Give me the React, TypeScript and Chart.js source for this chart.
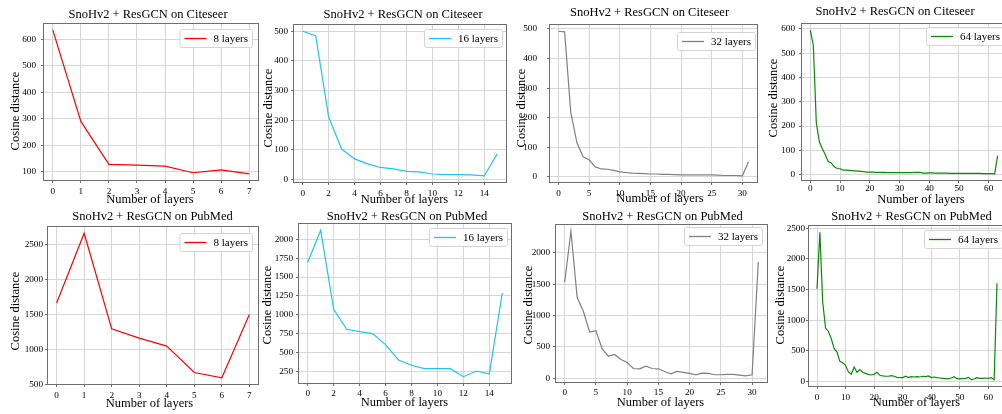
import React, { useEffect, useRef } from "react";
import { Chart, registerables } from "chart.js";

Chart.register(...registerables);

const TITLE_CITESEER = "SnoHv2 + ResGCN on Citeseer";
const TITLE_PUBMED = "SnoHv2 + ResGCN on PubMed";
const X_LABEL = "Number of layers";
const Y_LABEL = "Cosine distance";

const LEGEND_8 = "8 layers";
const LEGEND_16 = "16 layers";
const LEGEND_32 = "32 layers";
const LEGEND_64 = "64 layers";

// Citeseer series
const citeseer8 = [635, 290, 128, 125, 121, 96, 107, 92];
const citeseer16 = [500, 485, 211, 103, 70, 53, 41, 36, 28, 26, 19, 17, 17, 16, 13, 87];
const citeseer32 = [492, 490, 218, 116, 68, 58, 34, 27, 26, 22, 17, 15, 13, 12, 11, 10, 10, 9, 9, 8, 7, 7, 7, 7, 7, 7, 6, 5, 5, 5, 4, 51];
const citeseer64 = [
  595, 532, 214, 136, 107, 83, 54, 48, 33, 25,
  24, 18, 18, 17, 16, 15, 14, 13, 12, 10,
  10, 10, 9, 9, 9, 9, 8, 8, 8, 8,
  8, 8, 8, 8, 8, 9, 9, 9, 6, 6,
  7, 7, 6, 6, 6, 6, 6, 5, 5, 5,
  5, 5, 5, 5, 5, 5, 5, 5, 4, 4,
  4, 4, 3, 78,
];

// PubMed series
const pubmed8 = [1667, 2665, 1295, 1162, 1048, 671, 595, 1500];
const pubmed16 = [1695, 2119, 1072, 807, 776, 750, 604, 400, 330, 285, 285, 285, 179, 254, 215, 1288];
const pubmed32 = [
  1529, 2344, 1286, 1063, 735, 757, 466, 349, 376, 296,
  249, 153, 148, 190, 153, 148, 106, 69, 106, 90,
  74, 53, 79, 74, 53, 53, 58, 58, 48, 37,
  53, 1857,
];
const pubmed64 = [
  1511, 2435, 1293, 870, 815, 696, 533, 478, 326, 304,
  261, 152, 114, 234, 147, 190, 147, 130, 114, 103,
  114, 147, 98, 87, 82, 82, 92, 82, 65, 60,
  60, 82, 60, 76, 70, 76, 70, 82, 76, 87,
  60, 70, 60, 54, 49, 43, 38, 54, 76, 43,
  38, 43, 49, 65, 27, 38, 60, 49, 49, 54,
  49, 60, 27, 1603,
];

// Tick values
const xTicks8 = [0, 1, 2, 3, 4, 5, 6, 7];
const xTicks16 = [0, 2, 4, 6, 8, 10, 12, 14];
const xTicks32 = [0, 5, 10, 15, 20, 25, 30];
const xTicks64 = [0, 10, 20, 30, 40, 50, 60];
const yTicksCiteseer8 = [100, 200, 300, 400, 500, 600];
const yTicksCiteseer16 = [0, 100, 200, 300, 400, 500];
const yTicksCiteseer32 = [0, 100, 200, 300, 400, 500];
const yTicksCiteseer64 = [0, 100, 200, 300, 400, 500, 600];
const yTicksPubmed8 = [500, 1000, 1500, 2000, 2500];
const yTicksPubmed16 = [250, 500, 750, 1000, 1250, 1500, 1750, 2000];
const yTicksPubmed32 = [0, 500, 1000, 1500, 2000];
const yTicksPubmed64 = [0, 500, 1000, 1500, 2000, 2500];

const RED = "#ff0000";
const SKY = "#1ec4f2";
const GREY = "#808080";
const GREEN = "#0a8a0a";

const FONT = '"Liberation Serif", "DejaVu Serif", serif';

type Panel = {
  data: number[];
  xTicks: number[];
  yTicks: number[];
  title: string;
  legend: string;
  color: string;
  cl: number;
  ct: number;
  ch: number;
  plot: [number, number, number, number];
  titleX: number;
  titleY: number;
  yTitleX: number;
  yTitleY: number;
  xTitleX: number;
  xTitleY: number;
  xTickPad: number;
  yTickGap: number;
  legR: number;
  legT: number;
};

const PANELS: Panel[] = [
  { data: citeseer8, xTicks: xTicks8, yTicks: yTicksCiteseer8, title: TITLE_CITESEER, legend: LEGEND_8, color: RED,
    cl: 0, ct: 0, ch: 207, plot: [43, 23, 259, 181], titleX: 148, titleY: 15, yTitleX: 15.5, yTitleY: 111, xTitleX: 150, xTitleY: 200,
    xTickPad: 3, yTickGap: 7, legR: 7, legT: 6 },
  { data: citeseer16, xTicks: xTicks16, yTicks: yTicksCiteseer16, title: TITLE_CITESEER, legend: LEGEND_16, color: SKY,
    cl: 255, ct: 0, ch: 207, plot: [293, 24, 507, 183], titleX: 403, titleY: 15, yTitleX: 269, yTitleY: 108, xTitleX: 404.5, xTitleY: 200,
    xTickPad: 3, yTickGap: 5, legR: 5, legT: 5 },
  { data: citeseer32, xTicks: xTicks32, yTicks: yTicksCiteseer32, title: TITLE_CITESEER, legend: LEGEND_32, color: GREY,
    cl: 505, ct: 0, ch: 207, plot: [549, 24, 758, 183], titleX: 649.5, titleY: 13, yTitleX: 522, yTitleY: 108, xTitleX: 660, xTitleY: 199,
    xTickPad: 3, yTickGap: 12, legR: 3, legT: 8 },
  { data: citeseer64, xTicks: xTicks64, yTicks: yTicksCiteseer64, title: TITLE_CITESEER, legend: LEGEND_64, color: GREEN,
    cl: 757, ct: 0, ch: 207, plot: [801, 23, 1007, 181], titleX: 895, titleY: 12, yTitleX: 774, yTitleY: 98, xTitleX: 921, xTitleY: 200,
    xTickPad: 0, yTickGap: 6, legR: 3, legT: 4 },
  { data: pubmed8, xTicks: xTicks8, yTicks: yTicksPubmed8, title: TITLE_PUBMED, legend: LEGEND_8, color: RED,
    cl: 0, ct: 207, ch: 207, plot: [47, 226, 259, 385], titleX: 152.5, titleY: 217, yTitleX: 16, yTitleY: 311, xTitleX: 149.5, xTitleY: 404,
    xTickPad: 3, yTickGap: 4, legR: 7, legT: 7 },
  { data: pubmed16, xTicks: xTicks16, yTicks: yTicksPubmed16, title: TITLE_PUBMED, legend: LEGEND_16, color: SKY,
    cl: 255, ct: 207, ch: 207, plot: [298, 223, 512, 384], titleX: 407, titleY: 217, yTitleX: 268, yTitleY: 305, xTitleX: 404.5, xTitleY: 403,
    xTickPad: 2, yTickGap: 5, legR: 5, legT: 5 },
  { data: pubmed32, xTicks: xTicks32, yTicks: yTicksPubmed32, title: TITLE_PUBMED, legend: LEGEND_32, color: GREY,
    cl: 510, ct: 207, ch: 207, plot: [555, 224, 768, 383], titleX: 662.5, titleY: 217, yTitleX: 529, yTitleY: 305, xTitleX: 660.5, xTitleY: 403,
    xTickPad: 2, yTickGap: 5, legR: 6, legT: 3 },
  { data: pubmed64, xTicks: xTicks64, yTicks: yTicksPubmed64, title: TITLE_PUBMED, legend: LEGEND_64, color: GREEN,
    cl: 762, ct: 207, ch: 207, plot: [808, 225, 1006, 387], titleX: 911.5, titleY: 217, yTitleX: 781, yTitleY: 305, xTitleX: 916.5, xTitleY: 403,
    xTickPad: 3, yTickGap: 3, legR: 4, legT: 5 },
];

const decor = {
  id: "decor",
  afterDraw(chart: any, _args: any, opts: any) {
    const { ctx, chartArea: a } = chart;
    ctx.save();
    // frame
    ctx.strokeStyle = "#6e6e6e";
    ctx.lineWidth = 1;
    ctx.strokeRect(Math.round(a.left) + 0.5, Math.round(a.top) + 0.5, Math.round(a.right - a.left) - 1, Math.round(a.bottom - a.top) - 1);
    // title and axis titles
    ctx.fillStyle = "#000";
    ctx.font = `12.5px ${FONT}`;
    ctx.textAlign = "center";
    ctx.textBaseline = "middle";
    ctx.fillText(opts.title, opts.titleX, opts.titleY);
    ctx.fillText(opts.xTitle, opts.xTitleX, opts.xTitleY);
    ctx.save();
    ctx.translate(opts.yTitleX, opts.yTitleY);
    ctx.rotate(-Math.PI / 2);
    ctx.fillText(opts.yTitle, 0, 0);
    ctx.restore();
    // legend
    ctx.font = `11px ${FONT}`;
    const tw = ctx.measureText(opts.legend).width;
    const h = 18;
    const w = 4 + 22 + 7 + tw + 5;
    const x = a.right - opts.legR - w;
    const y = a.top + opts.legT;
    ctx.beginPath();
    ctx.roundRect(x + 0.5, y + 0.5, w, h, 2);
    ctx.fillStyle = "rgba(255,255,255,0.85)";
    ctx.fill();
    ctx.strokeStyle = "#d4d4d4";
    ctx.lineWidth = 1;
    ctx.stroke();
    ctx.beginPath();
    ctx.strokeStyle = opts.color;
    ctx.lineWidth = 1.3;
    ctx.moveTo(x + 5, y + h / 2 + 0.5);
    ctx.lineTo(x + 27, y + h / 2 + 0.5);
    ctx.stroke();
    ctx.fillStyle = "#000";
    ctx.textAlign = "left";
    ctx.textBaseline = "middle";
    ctx.fillText(opts.legend, x + 34, y + h / 2 + 1);
    ctx.restore();
  },
};

function canvasWidth(p: Panel) {
  return p.plot[2] + 5 - p.cl;
}

const plainLabel = (v: any) => String(v);

function makeConfig(p: Panel): any {
  const n = p.data.length;
  const dmin = Math.min(...p.data);
  const dmax = Math.max(...p.data);
  const yr = dmax - dmin;
  const xr = n - 1;
  const [pl, pt, , pb] = p.plot;
  const xAxisH = p.ct + p.ch - pb;
  const yAxisW = pl - p.cl;
  const tickFont = { family: FONT, size: 9.2 };
  const grid = {
    color: "#d6d6d6",
    lineWidth: 1,
    drawTicks: true,
    tickLength: 2,
    tickColor: "#6e6e6e",
  };
  return {
    type: "line",
    data: {
      datasets: [
        {
          data: p.data.map((v, i) => ({ x: i, y: v })),
          borderColor: p.color,
          borderWidth: 1.2,
          pointRadius: 0,
          tension: 0,
          fill: false,
        },
      ],
    },
    options: {
      responsive: false,
      animation: false,
      events: [],
      layout: { padding: { left: 0, right: 5, top: pt - p.ct, bottom: 0 } },
      plugins: {
        legend: { display: false },
        title: { display: false },
        tooltip: { enabled: false },
        decor: {
          title: p.title,
          titleX: p.titleX - p.cl,
          titleY: p.titleY - p.ct,
          xTitle: X_LABEL,
          xTitleX: p.xTitleX - p.cl,
          xTitleY: p.xTitleY - p.ct,
          yTitle: Y_LABEL,
          yTitleX: p.yTitleX - p.cl,
          yTitleY: p.yTitleY - p.ct,
          legend: p.legend,
          color: p.color,
          legR: p.legR,
          legT: p.legT,
        },
      },
      scales: {
        x: {
          type: "linear",
          min: -0.05 * xr,
          max: xr * 1.05,
          afterBuildTicks: (s: any) => {
            s.ticks = p.xTicks.map((v) => ({ value: v }));
          },
          afterFit: (s: any) => {
            s.height = xAxisH;
          },
          ticks: { autoSkip: false, maxRotation: 0, padding: p.xTickPad, font: tickFont, color: "#000", callback: plainLabel },
          grid,
          border: { display: false },
        },
        y: {
          type: "linear",
          min: dmin - 0.05 * yr,
          max: dmax + 0.05 * yr,
          afterBuildTicks: (s: any) => {
            s.ticks = p.yTicks.map((v) => ({ value: v }));
          },
          afterFit: (s: any) => {
            s.width = yAxisW;
          },
          ticks: { padding: Math.max(p.yTickGap - 2, 0), font: tickFont, color: "#000", callback: plainLabel },
          grid,
          border: { display: false },
        },
      },
    },
    plugins: [decor],
  };
}

export default function App() {
  const refs = useRef<(HTMLCanvasElement | null)[]>([]);

  useEffect(() => {
    const charts = PANELS.map((p, i) => new Chart(refs.current[i] as HTMLCanvasElement, makeConfig(p)));
    return () => charts.forEach((c) => c.destroy());
  }, []);

  return (
    <div
      style={{
        position: "fixed",
        left: 0,
        top: 0,
        width: 1002,
        height: 414,
        overflow: "hidden",
        background: "#ffffff",
      }}
    >
      {PANELS.map((p, i) => (
        <canvas
          key={i}
          ref={(el) => {
            refs.current[i] = el;
          }}
          width={canvasWidth(p)}
          height={p.ch}
          style={{ position: "absolute", left: p.cl, top: p.ct, width: canvasWidth(p), height: p.ch }}
        />
      ))}
    </div>
  );
}
